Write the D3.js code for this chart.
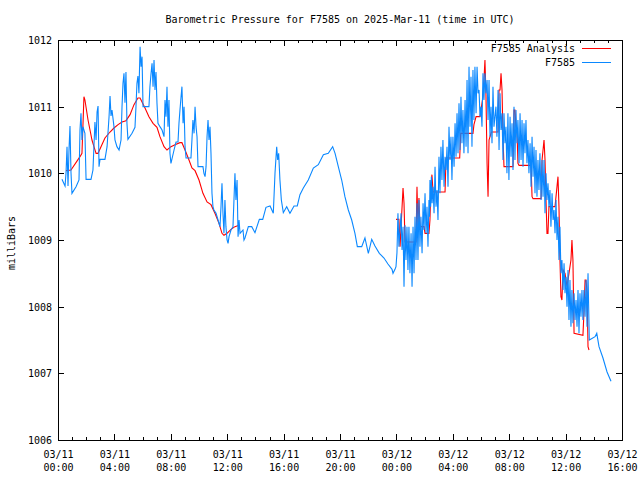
<!DOCTYPE html>
<html><head><meta charset="utf-8">
<script src="https://cdn.jsdelivr.net/npm/d3@7"></script>
<style>
body{margin:0;background:#fff;}
svg text{font-family:"DejaVu Sans Mono","Liberation Mono",monospace;font-size:10px;fill:#000;}
</style></head><body><svg id="c" width="640" height="480"></svg>
<script>
// ---- data (hours after 2025-03-11 00:00 UTC, millibars) ----
const blueHoursDay1=[0.28,0.50,0.57,0.64,0.71,0.78,0.85,0.92,0.99,1.28,1.49,1.56,1.63,1.70,1.77,1.91,1.99,2.34,2.48,2.62,2.70,2.77,2.84,2.91,2.98,3.33,3.48,3.62,3.69,3.76,3.83,3.97,4.04,4.18,4.33,4.47,4.54,4.61,4.68,4.75,4.82,4.89,4.96,5.25,5.46,5.53,5.60,5.67,5.74,5.82,5.89,5.96,6.03,6.45,6.52,6.60,6.67,6.74,6.81,6.88,6.95,7.02,7.09,7.23,7.38,7.52,7.59,7.66,7.73,7.80,7.87,7.94,8.01,8.23,8.37,8.51,8.58,8.65,8.72,8.79,8.87,8.94,9.01,9.08,9.43,9.50,9.57,9.65,9.72,9.79,9.86,9.93,10.28,10.35,10.43,10.50,10.57,10.64,10.71,10.78,10.85,10.92,10.99,11.06,11.21,11.35,11.49,11.56,11.63,11.70,11.77,11.84,11.91,11.99,12.06,12.13,12.27,12.41,12.55,12.62,12.70,12.77,12.84,12.91,13.12,13.19,13.26,13.50,13.74,13.97,14.28,14.52,14.75,15.04,15.27,15.39,15.51,15.58,15.65,15.74,15.84,15.98,16.22,16.45,16.74,16.97,17.16,17.40,17.75,18.11,18.46,18.82,19.17,19.48,19.65,19.88,20.12,20.35,20.59,20.83,21.06,21.23,21.54,21.77,22.01,22.25,22.48,22.79,23.12,23.40,23.69,23.76,23.90,23.97,24.04];
const bluePresDay1=[1009.91,1009.81,1010.01,1010.40,1009.81,1010.35,1010.71,1010.02,1009.70,1009.80,1009.90,1010.65,1010.90,1010.50,1010.70,1010.60,1009.91,1009.91,1010.05,1010.77,1010.50,1010.92,1011.01,1010.10,1010.21,1010.21,1010.40,1010.85,1011.16,1010.86,1010.95,1010.70,1010.50,1010.40,1010.35,1010.50,1011.00,1011.35,1011.50,1011.06,1011.52,1010.75,1010.51,1010.60,1010.69,1011.00,1011.35,1011.46,1011.20,1011.90,1011.60,1011.75,1011.00,1011.00,1011.30,1011.50,1011.65,1011.30,1011.70,1011.25,1011.52,1011.05,1010.75,1010.70,1010.65,1010.55,1011.10,1010.85,1011.30,1010.70,1011.10,1010.30,1010.15,1010.35,1010.47,1010.47,1010.75,1010.95,1011.13,1011.30,1010.75,1011.00,1010.40,1010.23,1010.23,1010.50,1010.80,1010.60,1011.00,1010.70,1010.55,1010.10,1010.10,1010.00,1009.95,1010.10,1010.55,1010.80,1010.50,1010.70,1010.30,1009.70,1009.50,1009.45,1009.40,1009.30,1009.20,1009.50,1009.85,1009.40,1009.10,1009.60,1009.20,1009.00,1008.95,1009.05,1009.15,1009.20,1010.00,1009.60,1009.90,1009.05,1009.30,1009.10,1009.15,1009.00,1009.03,1009.20,1009.20,1009.11,1009.31,1009.31,1009.49,1009.51,1009.40,1010.00,1010.40,1010.20,1010.30,1009.90,1009.60,1009.41,1009.50,1009.40,1009.51,1009.51,1009.68,1009.78,1009.90,1010.08,1010.13,1010.28,1010.30,1010.40,1010.30,1010.10,1009.90,1009.65,1009.45,1009.30,1009.10,1008.90,1008.90,1009.03,1008.80,1009.01,1008.91,1008.80,1008.73,1008.64,1008.56,1008.50,1008.56,1008.60,1008.81];
const blueHoursDay2=[24.11,24.18,24.33,24.40,24.47,24.54,24.61,24.68,24.75,24.82,24.89,24.96,25.04,25.11,25.18,25.25,25.32,25.39,25.46,25.53,25.60,25.67,25.74,25.82,25.89,25.96,26.03,26.10,26.17,26.24,26.31,26.35,26.38,26.43,26.48,26.53,26.60,26.67,26.74,26.81,26.88,26.95,27.02,27.09,27.16,27.23,27.30,27.38,27.45,27.52,27.59,27.66,27.73,27.80,27.87,27.94,28.01,28.09,28.16,28.23,28.30,28.37,28.44,28.51,28.58,28.65,28.72,28.79,28.87,28.94,29.01,29.08,29.15,29.22,29.29,29.36,29.43,29.50,29.57,29.65,29.72,29.79,29.86,29.93,30.00,30.07,30.14,30.21,30.28,30.35,30.43,30.50,30.57,30.64,30.71,30.78,30.85,30.92,31.06,31.13,31.21,31.28,31.35,31.42,31.49,31.56,31.63,31.70,31.77,31.84,31.91,31.98,32.06,32.13,32.20,32.27,32.34,32.41,32.48,32.55,32.62,32.70,32.77,32.84,32.91,32.98,33.05,33.12,33.19,33.26,33.33,33.40,33.48,33.55,33.62,33.69,33.76,33.83,33.90,33.97,34.04,34.11,34.18,34.26,34.33,34.40,34.47,34.54,34.61,34.68,34.75,34.82,34.89,34.96,35.04,35.11,35.18,35.25,35.32,35.39,35.46,35.53,35.60,35.67,35.74,35.82,35.89,35.96,36.03,36.10,36.17,36.24,36.31,36.38,36.45,36.52,36.60,36.67,36.74,36.81,36.88,36.95,37.02,37.09,37.16,37.23,37.30,37.38,37.45,37.52,37.59,37.68,38.09,38.21,38.37,38.65,38.94,39.22];
const bluePresDay2=[1009.40,1008.90,1009.40,1008.85,1009.20,1008.30,1009.22,1008.70,1009.20,1008.55,1009.20,1008.50,1009.10,1008.30,1009.20,1008.50,1009.35,1008.70,1009.55,1008.70,1009.60,1008.90,1009.35,1008.80,1009.55,1009.15,1009.70,1009.10,1009.50,1008.90,1009.60,1009.35,1009.90,1009.50,1009.95,1009.55,1009.80,1009.40,1010.10,1009.50,1009.75,1009.30,1010.25,1009.70,1010.40,1009.90,1010.50,1009.80,1010.25,1010.05,1010.40,1009.80,1010.70,1010.20,1010.55,1009.90,1010.55,1010.10,1010.75,1010.25,1010.90,1010.30,1011.05,1010.35,1011.15,1010.45,1010.95,1010.30,1011.10,1010.40,1011.40,1010.30,1011.60,1010.70,1011.45,1010.40,1011.55,1010.80,1011.60,1010.90,1011.60,1011.20,1011.25,1010.85,1011.00,1010.70,1011.50,1011.10,1011.50,1011.20,1011.40,1010.80,1011.40,1010.55,1011.00,1010.45,1011.30,1010.70,1011.00,1010.55,1011.25,1010.35,1011.20,1010.65,1010.90,1010.20,1010.90,1010.45,1010.70,1010.00,1010.90,1009.90,1010.85,1010.25,1010.75,1010.05,1011.00,1010.20,1010.95,1010.45,1010.80,1010.15,1010.90,1010.20,1010.80,1010.10,1010.75,1010.30,1010.80,1010.15,1010.50,1010.00,1010.45,1009.80,1010.55,1009.95,1010.40,1009.70,1010.35,1009.65,1010.20,1009.75,1010.30,1009.60,1010.20,1009.65,1010.20,1009.40,1010.00,1009.60,1009.85,1009.50,1009.75,1009.20,1009.70,1009.30,1009.45,1009.10,1009.60,1009.00,1009.35,1008.70,1009.20,1008.50,1008.70,1008.25,1008.65,1008.20,1008.45,1008.00,1008.55,1007.80,1008.40,1007.70,1008.25,1007.75,1008.20,1007.80,1008.10,1007.70,1008.25,1007.60,1008.20,1007.85,1008.25,1007.80,1008.25,1007.85,1008.40,1007.70,1008.50,1007.50,1007.55,1007.60,1007.40,1007.23,1007.02,1006.88];
const redHoursDay1=[0.57,0.92,1.56,1.70,1.84,1.91,2.13,2.27,2.41,2.55,2.70,2.84,3.05,3.33,3.69,3.97,4.26,4.54,4.82,5.11,5.39,5.67,5.82,5.96,6.17,6.45,6.74,7.02,7.23,7.52,7.73,8.01,8.30,8.65,8.79,9.01,9.29,9.50,9.72,10.00,10.28,10.57,10.85,11.13,11.42,11.63,11.77,11.99,12.27,12.55,12.84];
const redPresDay1=[1010.04,1010.05,1010.25,1010.30,1011.15,1011.10,1010.80,1010.65,1010.50,1010.40,1010.30,1010.30,1010.40,1010.53,1010.62,1010.68,1010.73,1010.77,1010.79,1010.88,1011.03,1011.13,1011.13,1011.07,1010.98,1010.85,1010.75,1010.69,1010.55,1010.40,1010.35,1010.40,1010.43,1010.46,1010.46,1010.35,1010.20,1010.08,1010.04,1009.90,1009.70,1009.57,1009.53,1009.40,1009.25,1009.10,1009.07,1009.10,1009.16,1009.20,1009.22];
const redHoursDay2=[23.97,24.18,24.26,24.33,24.47,24.54,24.61,25.39,25.46,25.53,25.60,25.67,25.96,26.03,26.31,26.38,26.45,26.52,26.60,27.45,27.52,28.49,28.56,29.43,29.50,29.65,29.93,30.14,30.21,30.28,30.35,30.43,30.50,30.57,30.73,31.21,31.28,31.35,31.42,31.49,31.56,31.63,32.27,32.34,32.41,32.48,32.55,32.62,32.70,33.55,33.62,33.69,34.26,34.33,34.47,34.54,34.61,34.68,34.75,34.82,35.25,35.39,35.46,35.53,35.60,35.67,35.74,35.82,35.96,36.10,36.38,36.45,36.52,36.60,37.23,37.30,37.38,37.45,37.52,37.59,37.66];
const redPresDay2=[1009.31,1009.31,1008.90,1009.20,1009.78,1009.55,1008.97,1008.97,1009.80,1009.20,1009.63,1009.20,1009.20,1009.10,1009.10,1009.30,1009.80,1009.98,1009.72,1009.72,1010.23,1010.23,1010.60,1010.60,1010.73,1010.85,1010.85,1011.15,1011.40,1011.70,1011.20,1010.15,1009.65,1010.50,1010.62,1010.62,1011.25,1011.25,1011.50,1011.25,1010.55,1010.10,1010.10,1010.95,1010.95,1010.70,1010.65,1010.15,1010.12,1010.12,1009.65,1009.62,1009.62,1010.20,1010.50,1010.20,1009.60,1009.10,1009.10,1009.50,1009.50,1009.80,1009.95,1009.50,1008.70,1008.15,1008.10,1008.55,1008.50,1008.30,1008.70,1009.00,1008.70,1007.60,1007.57,1007.90,1008.40,1008.40,1008.20,1007.40,1007.35];
const yTicks=[1006,1007,1008,1009,1010,1011,1012];
const seriesNames=["F7585 Analysis","F7585"];
const seriesColors=["#ff0000","#0a88ff"];
const titleText="Barometric Pressure for F7585 on 2025-Mar-11 (time in UTC)";
const yLabel="milliBars";

// ---- build ----
const t0=Date.UTC(2025,2,11);
const toDate=h=>new Date(t0+h*3600000);
const zipPts=(hs,ps)=>hs.slice(0,Math.min(hs.length,ps.length)).map((h,i)=>({t:toDate(h),p:ps[i]}));
const blue=zipPts(blueHoursDay1.concat(blueHoursDay2),bluePresDay1.concat(bluePresDay2));
const red1=zipPts(redHoursDay1,redPresDay1), red2=zipPts(redHoursDay2,redPresDay2);

const L=58,R=622,T=40,B=440;
const svg=d3.select("#c");
svg.append("rect").attr("width",640).attr("height",480).attr("fill","#fff");
const x=d3.scaleUtc().domain([toDate(0),toDate(40)]).range([L,R]);
const y=d3.scaleLinear().domain([1006,1012]).range([B,T]);

const g=svg.append("g").attr("shape-rendering","crispEdges");
function styleAxis(sel){sel.select(".domain").remove();sel.selectAll("line").attr("stroke","#000");}
// minor hourly ticks bottom/top
g.append("g").attr("transform",`translate(0,${B})`).call(d3.axisBottom(x).ticks(d3.utcHour.every(1)).tickSize(-3).tickFormat("")).call(styleAxis);
g.append("g").attr("transform",`translate(0,${T})`).call(d3.axisTop(x).ticks(d3.utcHour.every(1)).tickSize(-3).tickFormat("")).call(styleAxis);
// major ticks bottom with labels
const xb=g.append("g").attr("transform",`translate(0,${B})`)
  .call(d3.axisBottom(x).ticks(d3.utcHour.every(4)).tickSize(-6).tickFormat(d3.utcFormat("%m/%d"))).call(styleAxis);
xb.selectAll(".tick text").each(function(d){
  const s=d3.select(this).attr("dy",null).attr("y",null).text(null).attr("fill","#000").attr("font-size",null).attr("font-family",null);
  s.append("tspan").attr("x",0).attr("y",18).text(d3.utcFormat("%m/%d")(d));
  s.append("tspan").attr("x",0).attr("y",31).text(d3.utcFormat("%H:%M")(d));
});
g.append("g").attr("transform",`translate(0,${T})`).call(d3.axisTop(x).ticks(d3.utcHour.every(4)).tickSize(-6).tickFormat("")).call(styleAxis);
// y axes
const yl=g.append("g").attr("transform",`translate(${L},0)`)
  .call(d3.axisLeft(y).tickValues(yTicks).tickSize(-6).tickPadding(6).tickFormat(d3.format("d"))).call(styleAxis);
yl.selectAll(".tick text").attr("font-size",null).attr("font-family",null).attr("fill","#000").attr("dy","0.35em");
g.append("g").attr("transform",`translate(${R},0)`).call(d3.axisRight(y).tickValues(yTicks).tickSize(-6).tickFormat("")).call(styleAxis);

// series
const line=d3.line().x(d=>x(d.t)).y(d=>y(d.p));
const plot=svg.append("g");
plot.append("path").datum(red1).attr("d",line).attr("fill","none").attr("stroke",seriesColors[0]).attr("stroke-width",1.1);
plot.append("path").datum(red2).attr("d",line).attr("fill","none").attr("stroke",seriesColors[0]).attr("stroke-width",1.1);
plot.append("path").datum(blue).attr("d",line).attr("fill","none").attr("stroke",seriesColors[1]).attr("stroke-width",1.1);

// frame
g.append("rect").attr("x",L+0.5).attr("y",T+0.5).attr("width",R-L).attr("height",B-T).attr("fill","none").attr("stroke","#000");

// title, labels
svg.append("text").attr("x",340).attr("y",23).attr("text-anchor","middle").text(titleText);
svg.append("text").attr("transform","translate(15,243) rotate(-90)").attr("text-anchor","middle").text(yLabel);

// legend
const lg=svg.append("g");
seriesNames.forEach((n,i)=>{
  const yy=48+i*14;
  lg.append("text").attr("x",575).attr("y",yy+4).attr("text-anchor","end").text(n);
  lg.append("rect").attr("x",582).attr("y",yy).attr("width",29).attr("height",1)
    .attr("fill",seriesColors[i]).attr("shape-rendering","crispEdges");
});
</script></body></html>
